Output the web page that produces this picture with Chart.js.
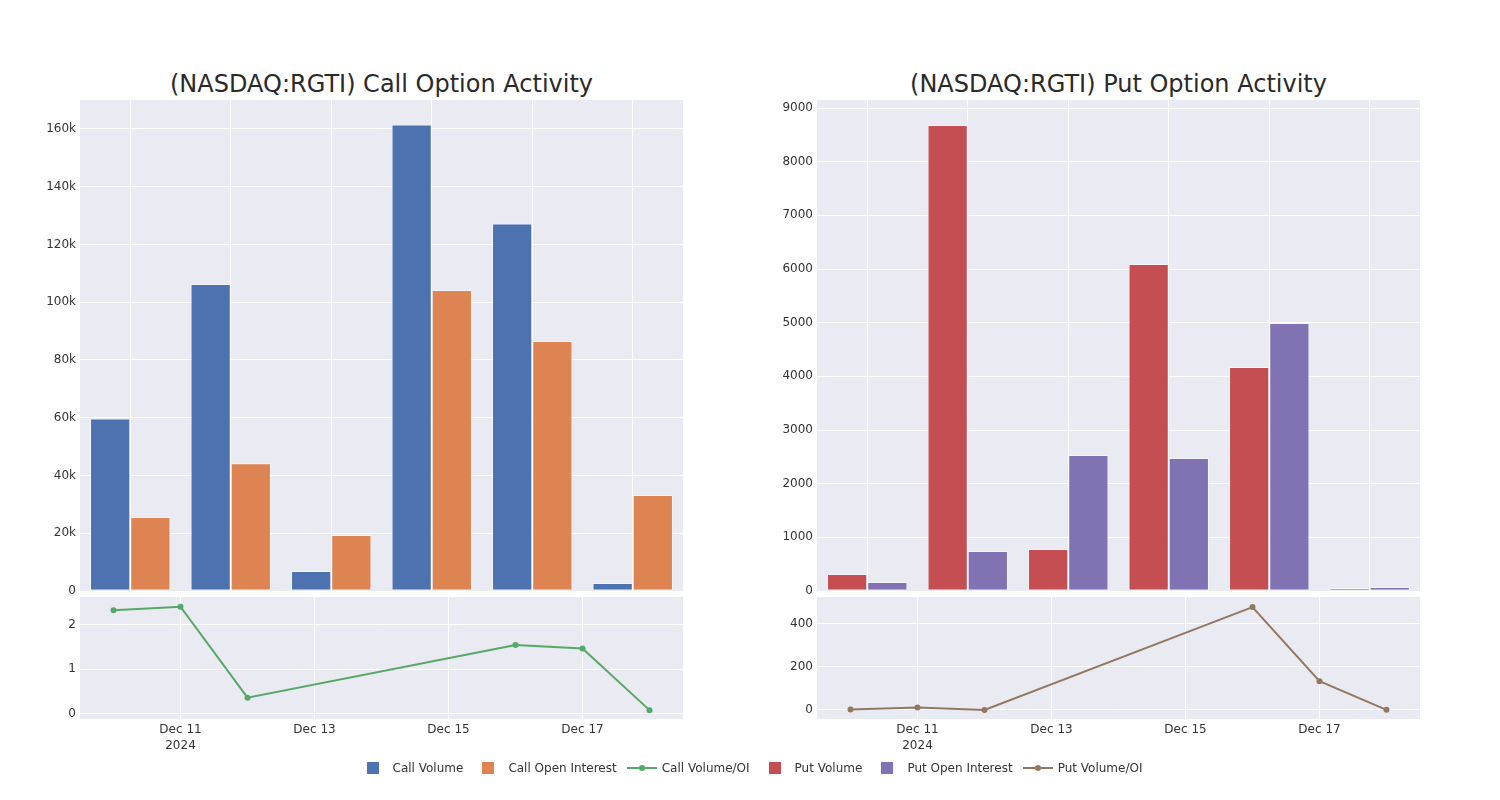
<!DOCTYPE html>
<html>
<head>
<meta charset="utf-8">
<script src="https://cdn.jsdelivr.net/npm/chart.js@4.4.1/dist/chart.umd.min.js"></script>
<style>
  body { margin: 0; width: 1500px; height: 800px; background: #fff; position: relative; overflow: hidden; font-family: 'DejaVu Sans', sans-serif; }
  canvas { position: absolute; }
  .title { position: absolute; top: 68px; height: 32px; line-height: 32px; font-size: 24px; color: #2a2a2a; text-align: center; white-space: nowrap; }
  #legend { position: absolute; top: 759px; left: 0; width: 1500px; height: 18px; display: flex; justify-content: center; font-size: 12px; color: #333; line-height: 18px; }
  .item { display: flex; align-items: center; margin-right: 5px; }
  .sym { width: 40px; height: 18px; position: relative; }
  .sq { position: absolute; left: 14px; top: 3px; width: 12px; height: 12px; }
  .ln { position: absolute; left: 5px; top: 8px; width: 30px; height: 2px; }
  .dot { position: absolute; left: 17px; top: 6px; width: 6px; height: 6px; border-radius: 50%; }
</style>
</head>
<body>
<div class="title" style="left:80px;width:603px">(NASDAQ:RGTI) Call Option Activity</div>
<div class="title" style="left:817px;width:603px">(NASDAQ:RGTI) Put Option Activity</div>
<canvas id="callBar" width="700" height="507" style="left:0;top:90px;width:700px;height:507px"></canvas>
<canvas id="callLine" width="700" height="173" style="left:0;top:587px;width:700px;height:173px"></canvas>
<canvas id="putBar" width="700" height="507" style="left:740px;top:90px;width:700px;height:507px"></canvas>
<canvas id="putLine" width="700" height="173" style="left:740px;top:587px;width:700px;height:173px"></canvas>
<div id="legend"></div>
<script>
// data
const dates = ['2024-12-10', '2024-12-11', '2024-12-12', '2024-12-16', '2024-12-17', '2024-12-18'];
const callVolume = [59700, 106300, 6900, 161500, 127200, 2800];
const callOpenInterest = [25600, 44200, 19400, 104200, 86600, 33200];
const callRatio = [2.33, 2.41, 0.36, 1.55, 1.47, 0.08];
const putVolume = [317, 8683, 783, 6093, 4174, 56];
const putOpenInterest = [168, 745, 2534, 2478, 4994, 75];
const putRatio = [1.9, 11.7, 0.3, 478, 134, 0.7];

// tick positions
const tickDates = ['2024-12-11', '2024-12-13', '2024-12-15', '2024-12-17'];
const callBarTicks = [0, 20000, 40000, 60000, 80000, 100000, 120000, 140000, 160000];
const putBarTicks = [0, 1000, 2000, 3000, 4000, 5000, 6000, 7000, 8000, 9000];
const callRatioTicks = [0, 1, 2];
const putRatioTicks = [0, 200, 400];

const colors = {
  callVolume: '#4C72B0',
  callOI: '#DD8452',
  callRatio: '#55A868',
  putVolume: '#C44E52',
  putOI: '#8172B3',
  putRatio: '#937860'
};

Chart.defaults.font.family = "'DejaVu Sans', sans-serif";
Chart.defaults.font.size = 12;
Chart.defaults.color = '#333';
Chart.defaults.animation = false;

const plotBg = {
  id: 'plotBg',
  beforeDraw(chart) {
    const { ctx, chartArea: a } = chart;
    ctx.save();
    ctx.fillStyle = '#EAEAF2';
    ctx.fillRect(a.left, a.top, a.width, a.height);
    ctx.restore();
  }
};

const dayNum = d => Date.parse(d) / 86400000;
const fmtDay = v => {
  const dt = new Date(v * 86400000);
  return 'Dec ' + dt.getUTCDate();
};

function fixSize(w, h) {
  return scale => {
    if (w !== undefined) scale.width = w;
    if (h !== undefined) scale.height = h;
    scale.paddingTop = 0; scale.paddingBottom = 0;
    scale.paddingLeft = 0; scale.paddingRight = 0;
  };
}

const setTicks = values => scale => { scale.ticks = values.map(v => ({ value: v })); };

const gridOpts = { color: '#fff', lineWidth: 1, drawTicks: false };

function barChart(id, volume, oi, volColor, oiColor, yMax, yTicks, tickFmt, yWidth, padRight) {
  return new Chart(document.getElementById(id), {
    type: 'bar',
    data: {
      labels: dates,
      datasets: [
        { data: volume, backgroundColor: volColor, borderColor: 'rgba(255,255,255,0.45)', borderWidth: 1, borderSkipped: false },
        { data: oi, backgroundColor: oiColor, borderColor: 'rgba(255,255,255,0.45)', borderWidth: 1, borderSkipped: false }
      ]
    },
    options: {
      responsive: false,
      layout: { padding: { top: 10, bottom: 6, left: 0, right: padRight } },
      plugins: { legend: { display: false }, tooltip: { enabled: false } },
      datasets: { bar: { categoryPercentage: 0.8, barPercentage: 1.0 } },
      scales: {
        x: {
          grid: { ...gridOpts, offset: false },
          border: { display: false },
          ticks: { display: false },
          afterFit: fixSize(undefined, 0)
        },
        y: {
          min: 0, max: yMax,
          grid: gridOpts,
          border: { display: false },
          afterBuildTicks: setTicks(yTicks),
          ticks: { padding: 4, callback: tickFmt },
          afterFit: fixSize(yWidth, undefined)
        }
      }
    },
    plugins: [plotBg]
  });
}

function lineChart(id, ratio, color, yMin, yMax, yTicks, yWidth, padRight) {
  return new Chart(document.getElementById(id), {
    type: 'line',
    data: {
      datasets: [{
        data: dates.map((d, i) => ({ x: dayNum(d), y: ratio[i] })),
        borderColor: color, backgroundColor: color, borderWidth: 2,
        pointRadius: 3, pointBorderWidth: 0, tension: 0
      }]
    },
    options: {
      responsive: false,
      layout: { padding: { top: 10, bottom: 0, left: 0, right: padRight } },
      plugins: { legend: { display: false }, tooltip: { enabled: false } },
      scales: {
        x: {
          type: 'linear',
          min: dayNum(dates[0]) - 0.5,
          max: dayNum(dates[dates.length - 1]) + 0.5,
          grid: gridOpts,
          border: { display: false },
          afterBuildTicks: setTicks(tickDates.map(dayNum)),
          ticks: {
            padding: 3, maxRotation: 0, autoSkip: false,
            font: { lineHeight: 1.35 },
            callback: (v, i) => i === 0 ? [fmtDay(v), '2024'] : fmtDay(v)
          },
          afterFit: fixSize(undefined, 41)
        },
        y: {
          min: yMin, max: yMax,
          grid: gridOpts,
          border: { display: false },
          afterBuildTicks: setTicks(yTicks),
          ticks: { padding: 4 },
          afterFit: fixSize(yWidth, undefined)
        }
      }
    },
    plugins: [plotBg]
  });
}

barChart('callBar', callVolume, callOpenInterest, colors.callVolume, colors.callOI,
  170000, callBarTicks, v => v === 0 ? '0' : (v / 1000) + 'k', 80, 17);
barChart('putBar', putVolume, putOpenInterest, colors.putVolume, colors.putOI,
  9150, putBarTicks, v => String(v), 77, 20);
lineChart('callLine', callRatio, colors.callRatio, -0.12, 2.63, callRatioTicks, 80, 17);
lineChart('putLine', putRatio, colors.putRatio, -42, 525, putRatioTicks, 77, 20);

// legend
const legendItems = [
  ['Call Volume', colors.callVolume, 'sq'],
  ['Call Open Interest', colors.callOI, 'sq'],
  ['Call Volume/OI', colors.callRatio, 'ln'],
  ['Put Volume', colors.putVolume, 'sq'],
  ['Put Open Interest', colors.putOI, 'sq'],
  ['Put Volume/OI', colors.putRatio, 'ln']
];
const legend = document.getElementById('legend');
legendItems.forEach(([name, color, kind]) => {
  const item = document.createElement('div');
  item.className = 'item';
  const sym = document.createElement('div');
  sym.className = 'sym';
  if (kind === 'sq') {
    sym.innerHTML = `<div class="sq" style="background:${color}"></div>`;
  } else {
    sym.innerHTML = `<div class="ln" style="background:${color}"></div><div class="dot" style="background:${color}"></div>`;
  }
  const txt = document.createElement('span');
  txt.textContent = name;
  item.appendChild(sym);
  item.appendChild(txt);
  legend.appendChild(item);
});
</script>
</body>
</html>
